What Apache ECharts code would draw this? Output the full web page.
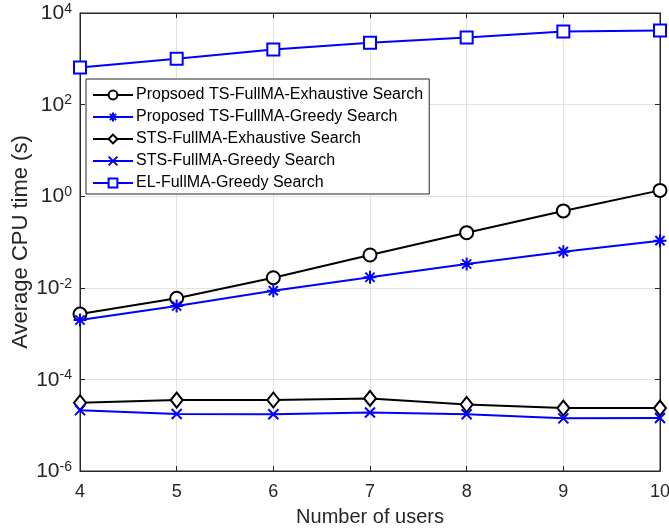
<!DOCTYPE html>
<html>
<head>
<meta charset="utf-8">
<script src="https://cdn.jsdelivr.net/npm/echarts@6/dist/echarts.min.js"></script>
<style>html,body{margin:0;padding:0;background:#fff;}#c{width:669px;height:531px;}</style>
</head>
<body>
<div id="c"></div>
<script>
const users = [4, 5, 6, 7, 8, 9, 10];
const yTicks = [1e-6, 1e-4, 1e-2, 1e0, 1e2, 1e4];
const seriesNames = [
  'Propsoed TS-FullMA-Exhaustive Search',
  'Proposed TS-FullMA-Greedy Search',
  'STS-FullMA-Exhaustive Search',
  'STS-FullMA-Greedy Search',
  'EL-FullMA-Greedy Search'
];
const tsExhaustive = [2.67e-3, 5.9e-3, 1.66e-2, 5.2e-2, 0.16, 0.477, 1.34];
const tsGreedy = [1.98e-3, 4.0e-3, 8.65e-3, 1.70e-2, 3.31e-2, 6.15e-2, 0.107];
const stsExhaustive = [3.08e-5, 3.53e-5, 3.55e-5, 3.85e-5, 2.84e-5, 2.36e-5, 2.36e-5];
const stsGreedy = [2.13e-5, 1.75e-5, 1.73e-5, 1.90e-5, 1.73e-5, 1.41e-5, 1.44e-5];
const elGreedy = [647, 1000, 1600, 2250, 2930, 3960, 4170];

const TXT = '#262626';
const FONT = '"Liberation Sans", Arial, Helvetica, sans-serif';
const asterisk = 'path://M0,-1L0,1M-1,0L1,0M-0.707,-0.707L0.707,0.707M-0.707,0.707L0.707,-0.707';
const cross = 'path://M-1,-1L1,1M-1,1L1,-1';

function pairs(vals) { return users.map((u, i) => [u, vals[i]]); }
function mk(name, vals, color, symbol, size) {
  return {
    name: name, type: 'line', data: pairs(vals),
    symbol: symbol, symbolSize: size, showAllSymbol: true,
    clip: false,
    lineStyle: { color: color, width: 2 },
    itemStyle: { color: symbol.indexOf('path') === 0 ? color : '#fff', borderColor: color, borderWidth: 2 },
    emphasis: { disabled: true },
    z: 3
  };
}

const chart = echarts.init(document.getElementById('c'), null, { renderer: 'canvas' });
const grid = { left: 80, right: 9, top: 13, bottom: 60, show: true, borderColor: TXT, borderWidth: 1, backgroundColor: '#fff', containLabel: false, outerBoundsMode: 'none' };
chart.setOption({
  animation: false,
  textStyle: { fontFamily: FONT },
  grid: grid,
  legend: {
    orient: 'vertical', left: 86, top: 79,
    backgroundColor: '#fff', borderColor: TXT, borderWidth: 1,
    padding: [8, 6, 3, 6], itemGap: 6, itemWidth: 40, itemHeight: 11,
    textStyle: { fontSize: 16, lineHeight: 14, color: '#000', fontFamily: FONT, padding: [0, 0, 0, -2] },
    data: seriesNames
  },
  xAxis: [{
    type: 'value', min: 4, max: 10, interval: 1,
    name: 'Number of users', nameLocation: 'middle', nameGap: 36, nameMoveOverlap: false,
    nameTextStyle: { fontSize: 20, color: TXT, fontFamily: FONT },
    axisLine: { lineStyle: { color: TXT, width: 1 } },
    axisTick: { inside: true, length: 5, lineStyle: { color: TXT } },
    axisLabel: { fontSize: 18, color: TXT, margin: 12, fontFamily: FONT },
    splitLine: { show: true, lineStyle: { color: '#e3e3e3', width: 1 } }
  }, {
    type: 'value', min: 4, max: 10, interval: 1, position: 'top',
    axisLine: { show: true, lineStyle: { color: TXT } },
    axisTick: { inside: true, length: 5, lineStyle: { color: TXT } },
    axisLabel: { show: false }, splitLine: { show: false }
  }],
  yAxis: [{
    type: 'log', logBase: 10, min: 1e-6, max: 1e4, interval: 2,
    name: 'Average CPU time (s)', nameLocation: 'middle', nameGap: 48, nameMoveOverlap: false,
    nameTextStyle: { fontSize: 22, color: TXT, fontFamily: FONT },
    axisLine: { show: true, lineStyle: { color: TXT, width: 1 } },
    axisTick: { show: true, inside: true, length: 5, lineStyle: { color: TXT } },
    minorTick: { show: false },
    axisLabel: {
      margin: 8, color: TXT, fontFamily: FONT,
      formatter: function (v) {
        const e = Math.round(Math.log10(v));
        return '{b|10}{s|' + e + '}';
      },
      rich: {
        b: { fontSize: 21, color: TXT, fontFamily: FONT, verticalAlign: 'bottom', lineHeight: 20 },
        s: { fontSize: 14, color: TXT, fontFamily: FONT, verticalAlign: 'bottom', padding: [0, 0, 8, 0] }
      }
    },
    splitLine: { show: true, lineStyle: { color: '#e3e3e3', width: 1 } }
  }, {
    type: 'log', logBase: 10, min: 1e-6, max: 1e4, interval: 2, position: 'right',
    axisLine: { show: true, lineStyle: { color: TXT } },
    axisTick: { show: true, inside: true, length: 5, lineStyle: { color: TXT } },
    axisLabel: { show: false }, splitLine: { show: false }
  }],
  series: [
    mk(seriesNames[0], tsExhaustive, '#000000', 'circle', 13),
    mk(seriesNames[1], tsGreedy, '#0000ff', asterisk, 13),
    mk(seriesNames[2], stsExhaustive, '#000000', 'diamond', [12, 15]),
    mk(seriesNames[3], stsGreedy, '#0000ff', cross, 10),
    mk(seriesNames[4], elGreedy, '#0000ff', 'rect', 12)
  ]
});
</script>
</body>
</html>
